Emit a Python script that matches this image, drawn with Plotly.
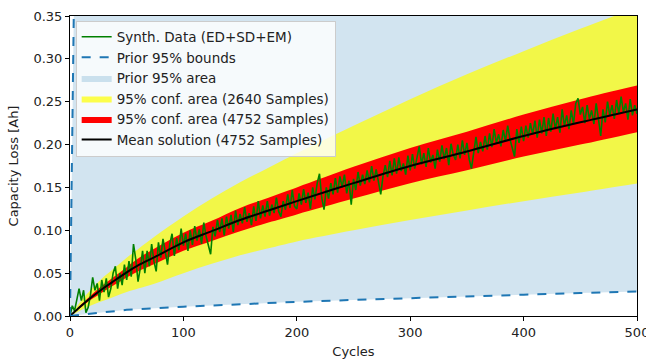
import plotly.graph_objects as go

# ---- data ----
grid_x = [0, 5, 10, 20, 30, 40, 50, 60, 75, 100, 125, 150, 175, 200, 250, 300, 350, 400, 450, 500]
mean_sol = [0, 0.006, 0.012, 0.023, 0.033, 0.042, 0.051, 0.059, 0.069, 0.086, 0.099, 0.112, 0.123,
            0.134, 0.155, 0.175, 0.192, 0.210, 0.226, 0.241]
red_upper = [0, 0.0068, 0.0136, 0.026, 0.037, 0.047, 0.057, 0.067, 0.079, 0.097, 0.111, 0.126,
             0.138, 0.150, 0.174, 0.196, 0.215, 0.235, 0.253, 0.269]
red_lower = [0, 0.0053, 0.0106, 0.0203, 0.029, 0.037, 0.045, 0.052, 0.061, 0.076, 0.0876, 0.099,
             0.109, 0.1185, 0.137, 0.155, 0.170, 0.186, 0.200, 0.2145]
yellow_upper = [0, 0.009, 0.018, 0.033, 0.046, 0.057, 0.068, 0.078, 0.093, 0.116, 0.137, 0.156,
                0.173, 0.190, 0.222, 0.253, 0.282, 0.309, 0.335, 0.360]
yellow_lower = [0, 0.0035, 0.007, 0.013, 0.018, 0.023, 0.028, 0.032, 0.038, 0.050, 0.061, 0.071,
                0.079, 0.087, 0.100, 0.112, 0.123, 0.134, 0.144, 0.1545]

prior_low_x = [0, 25, 50, 100, 150, 200, 250, 300, 350, 400, 450, 500]
prior_low_y = [0, 0.004, 0.0072, 0.0108, 0.0138, 0.0165, 0.0188, 0.021, 0.0229, 0.0248, 0.0267, 0.0285]
prior_up_x = [0, 1, 2, 3, 3.5, 500]
prior_up_y = [0, 0.10, 0.20, 0.31, 0.37, 40.0]

data_x = list(range(0, 501, 2))
data_y = [
    0.000, 0.012, 0.006, 0.020, 0.032, 0.018, 0.030, 0.004, 0.010, 0.024,
    0.045, 0.030, 0.038, 0.018, 0.042, 0.028, 0.044, 0.022, 0.032, 0.050,
    0.058, 0.032, 0.050, 0.036, 0.060, 0.042, 0.064, 0.046, 0.084, 0.066,
    0.040, 0.056, 0.076, 0.050, 0.076, 0.058, 0.084, 0.064, 0.052, 0.086,
    0.068, 0.090, 0.076, 0.060, 0.084, 0.096, 0.070, 0.091, 0.077, 0.102,
    0.082, 0.096, 0.076, 0.100, 0.083, 0.105, 0.088, 0.101, 0.084, 0.109,
    0.093, 0.083, 0.072, 0.104, 0.093, 0.112, 0.098, 0.114, 0.094, 0.116,
    0.102, 0.118, 0.098, 0.123, 0.106, 0.119, 0.108, 0.127, 0.110, 0.120,
    0.106, 0.128, 0.111, 0.134, 0.114, 0.129, 0.116, 0.134, 0.117, 0.130,
    0.120, 0.138, 0.122, 0.116, 0.134, 0.124, 0.142, 0.126, 0.147, 0.128,
    0.125, 0.143, 0.130, 0.148, 0.132, 0.144, 0.125, 0.150, 0.136, 0.155,
    0.166, 0.138, 0.124, 0.150, 0.137, 0.155, 0.142, 0.161, 0.144, 0.163,
    0.150, 0.165, 0.143, 0.158, 0.130, 0.160, 0.147, 0.168, 0.152, 0.165,
    0.154, 0.170, 0.156, 0.175, 0.158, 0.171, 0.155, 0.142, 0.163, 0.176,
    0.162, 0.181, 0.164, 0.184, 0.166, 0.185, 0.169, 0.178, 0.165, 0.187,
    0.170, 0.189, 0.172, 0.185, 0.198, 0.177, 0.190, 0.174, 0.196, 0.179,
    0.188, 0.172, 0.194, 0.180, 0.199, 0.183, 0.196, 0.176, 0.201, 0.188,
    0.182, 0.200, 0.184, 0.205, 0.188, 0.202, 0.183, 0.172, 0.194, 0.209,
    0.190, 0.203, 0.192, 0.210, 0.194, 0.213, 0.197, 0.218, 0.202, 0.212,
    0.198, 0.217, 0.204, 0.222, 0.206, 0.196, 0.186, 0.218, 0.202, 0.221,
    0.204, 0.222, 0.208, 0.225, 0.212, 0.228, 0.208, 0.229, 0.213, 0.232,
    0.210, 0.231, 0.215, 0.236, 0.218, 0.232, 0.214, 0.241, 0.222, 0.234,
    0.218, 0.240, 0.224, 0.248, 0.254, 0.235, 0.244, 0.225, 0.246, 0.230,
    0.240, 0.224, 0.248, 0.230, 0.210, 0.241, 0.226, 0.250, 0.234, 0.246,
    0.230, 0.252, 0.236, 0.256, 0.238, 0.248, 0.229, 0.253, 0.234, 0.246,
    0.236,
]

y_ticks = [0, 0.05, 0.1, 0.15, 0.2, 0.25, 0.3, 0.35]
x_ticks = [0, 100, 200, 300, 400, 500]

C0 = "#1f77b4"
fig = go.Figure()

# prior area
fig.add_trace(go.Scatter(x=prior_low_x, y=prior_low_y, mode="lines", line=dict(width=0),
                         showlegend=False, hoverinfo="skip"))
fig.add_trace(go.Scatter(x=prior_up_x, y=prior_up_y, mode="lines", line=dict(width=0),
                         fill="tonexty", fillcolor="rgba(31,119,180,0.2)",
                         name="Prior 95% area", legendrank=3))
# yellow band
fig.add_trace(go.Scatter(x=grid_x, y=yellow_lower, mode="lines", line=dict(width=0, shape="spline"),
                         showlegend=False, hoverinfo="skip"))
fig.add_trace(go.Scatter(x=grid_x, y=yellow_upper, mode="lines", line=dict(width=0, shape="spline"),
                         fill="tonexty", fillcolor="rgba(255,255,0,0.7)",
                         name="95% conf. area (2640 Samples)", legendrank=4))
# red band
fig.add_trace(go.Scatter(x=grid_x, y=red_lower, mode="lines", line=dict(width=0, shape="spline"),
                         showlegend=False, hoverinfo="skip"))
fig.add_trace(go.Scatter(x=grid_x, y=red_upper, mode="lines", line=dict(width=0, shape="spline"),
                         fill="tonexty", fillcolor="#ff0000",
                         name="95% conf. area (4752 Samples)", legendrank=5))
# data
fig.add_trace(go.Scatter(x=data_x, y=data_y, mode="lines", line=dict(color="#008000", width=1.6),
                         name="Synth. Data (ED+SD+EM)", legendrank=1))
# mean
fig.add_trace(go.Scatter(x=grid_x, y=mean_sol, mode="lines", line=dict(color="black", width=2, shape="spline"),
                         name="Mean solution (4752 Samples)", legendrank=6))
# prior bounds
fig.add_trace(go.Scatter(x=prior_low_x, y=prior_low_y, mode="lines",
                         line=dict(color=C0, width=2, dash="dash"),
                         name="Prior 95% bounds", legendrank=2, legendgroup="pb"))
fig.add_trace(go.Scatter(x=prior_up_x, y=prior_up_y, mode="lines",
                         line=dict(color=C0, width=2, dash="dash"),
                         showlegend=False, legendgroup="pb"))

axis_common = dict(showline=True, linecolor="black", linewidth=1, mirror=True,
                   ticks="outside", ticklen=4, tickcolor="black", showgrid=False, zeroline=False,
                   tickfont=dict(size=13, color="#222"), automargin=False,
                   ticklabeloverflow="allow")
fig.update_xaxes(range=[0, 500], tickvals=x_ticks,
                 title=dict(text="Cycles", font=dict(size=13, color="#222"), standoff=8), **axis_common)
fig.update_yaxes(range=[0, 0.35], tickvals=y_ticks, tickformat=".2f",
                 title=dict(text="Capacity Loss [Ah]", font=dict(size=13, color="#222"), standoff=11), **axis_common)

fig.update_layout(
    width=646, height=359,
    margin=dict(l=70, r=9, t=16, b=43),
    plot_bgcolor="white", paper_bgcolor="white",
    font=dict(family="DejaVu Sans", size=13, color="#222"),
    legend=dict(x=0.01, y=0.985, xanchor="left", yanchor="top",
                bgcolor="rgba(255,255,255,0.8)", bordercolor="#cccccc", borderwidth=1,
                font=dict(size=13.5), tracegroupgap=0, itemwidth=30),
)

fig.write_html("out.html", config={"displayModeBar": False},
               post_script="document.body.style.margin='0';document.body.style.overflow='hidden';")
